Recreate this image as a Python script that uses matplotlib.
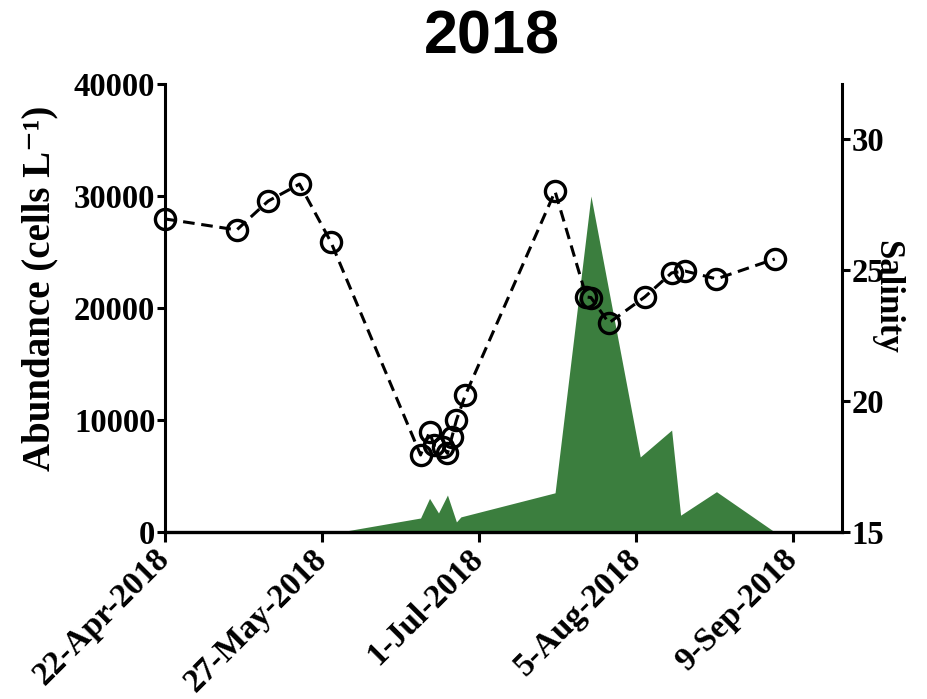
import datetime as dt
import matplotlib
matplotlib.use('Agg')
from matplotlib import pyplot as plt

# 字体：刻度和坐标轴标题用加粗衬线体
plt.rcParams['font.family'] = ['Liberation Serif', 'DejaVu Serif']
plt.rcParams['font.weight'] = 'bold'

d = dt.date

# 藻类丰度（cells/L）
abund_dates = [d(2018, 4, 22), d(2018, 5, 29), d(2018, 5, 31), d(2018, 6, 18), d(2018, 6, 20),
               d(2018, 6, 22), d(2018, 6, 24), d(2018, 6, 26), d(2018, 6, 27), d(2018, 7, 18),
               d(2018, 7, 26), d(2018, 8, 6), d(2018, 8, 13), d(2018, 8, 15), d(2018, 8, 23),
               d(2018, 9, 5)]
abundance = [0, 0, 0, 1250, 3000, 1700, 3300, 900, 1350, 3500,
             30000, 6700, 9100, 1500, 3600, 0]

# 盐度
sal_dates = [d(2018, 4, 22), d(2018, 5, 8), d(2018, 5, 15), d(2018, 5, 22), d(2018, 5, 29),
             d(2018, 6, 18), d(2018, 6, 20), d(2018, 6, 21), d(2018, 6, 23), d(2018, 6, 24),
             d(2018, 6, 25), d(2018, 6, 26), d(2018, 6, 28), d(2018, 7, 18), d(2018, 7, 25),
             d(2018, 7, 26), d(2018, 7, 30), d(2018, 8, 7), d(2018, 8, 13), d(2018, 8, 16),
             d(2018, 8, 23), d(2018, 9, 5)]
salinity = [26.95, 26.53, 27.63, 28.28, 26.07,
            17.94, 18.82, 18.32, 18.24, 18.0,
            18.63, 19.27, 20.23, 28.0, 23.97,
            23.95, 22.98, 23.97, 24.89, 24.96,
            24.66, 25.42]

tick_dates = [d(2018, 4, 22), d(2018, 5, 27), d(2018, 7, 1), d(2018, 8, 5), d(2018, 9, 9)]
tick_labels = ['22-Apr-2018', '27-May-2018', '1-Jul-2018', '5-Aug-2018', '9-Sep-2018']

fig = plt.figure(figsize=(9.28, 6.99), dpi=100)
ax = fig.add_axes([165 / 928, 1 - 532 / 699, (842 - 165) / 928, (532 - 84) / 699])

# 丰度面积图
ax.fill_between(abund_dates, abundance, 0, color='#3b7e3e', linewidth=0)
ax.set_xlim(d(2018, 4, 22), d(2018, 9, 20))
ax.set_ylim(0, 40000)
ax.set_yticks([0, 10000, 20000, 30000, 40000])
ax.set_xticks(tick_dates)
ax.set_xticklabels(tick_labels, rotation=45, ha='right', va='center', rotation_mode='anchor')
ax.tick_params(axis='y', labelsize=23.5, length=6, width=2.2, pad=1)
ax.tick_params(axis='x', labelsize=24, length=7, width=2.2, pad=9)
ax.spines['top'].set_visible(False)
ax.spines['right'].set_visible(False)
ax.spines['left'].set_linewidth(2.2)
ax.spines['bottom'].set_linewidth(2.4)

# 盐度折线（右轴）
ax2 = ax.twinx()
ax2.plot(sal_dates, salinity, color='black', linewidth=2.2, linestyle=(0, (3.8, 2.2)),
         marker='o', markersize=14.5, markerfacecolor='none', markeredgewidth=2.4,
         markeredgecolor='black', clip_on=False)
ax2.set_ylim(15, 32.1)
ax2.set_yticks([15, 20, 25, 30])
ax2.tick_params(axis='y', labelsize=23.5, length=6, width=2.2, pad=1)
for s in ['top', 'left', 'bottom']:
    ax2.spines[s].set_visible(False)
ax2.spines['right'].set_linewidth(2.2)

fig.text(40 / 928, 1 - 288 / 699, 'Abundance (cells L\u207b\u00b9)', rotation=90,
         ha='center', va='center', fontsize=28, fontweight='bold')
fig.text(887 / 928, 1 - 297 / 699, 'Salinity', rotation=-90,
         ha='center', va='center', fontsize=25, fontweight='bold')
fig.text(492 / 928, 1 - 38 / 699, '2018', ha='center', va='center',
         fontsize=44, fontweight='bold', family='Liberation Sans')

plt.savefig('out.png', dpi=100)
